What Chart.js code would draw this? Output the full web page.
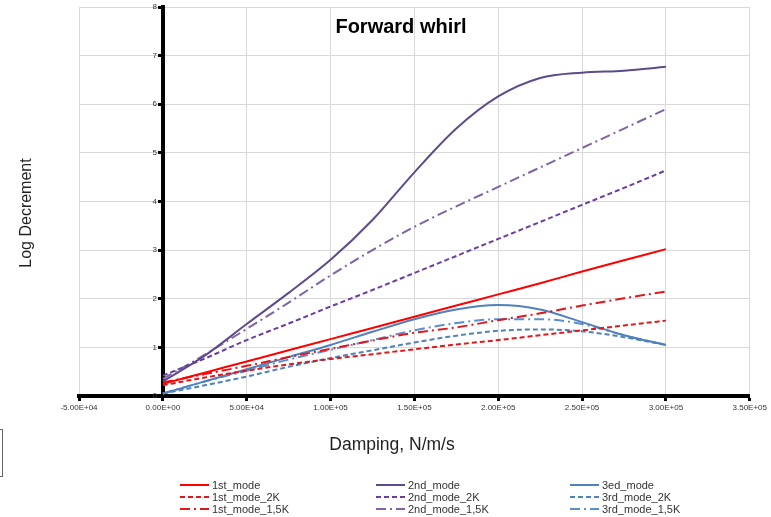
<!DOCTYPE html>
<html lang="en">
<head>
    <meta charset="UTF-8">
    <title>Forward whirl</title>
    <script src="https://cdn.jsdelivr.net/npm/chart.js"></script>
    <style>
        body { margin: 0; background: #fff; }
        .container_chart { position: relative; width: 771px; height: 517px; }
    </style>
</head>
<body>
    <div class="container_chart">
        <canvas id="whirlChart"></canvas>
    </div>

    <script>
        // damping, N/m/s
        const damping = [0, 25000, 50000, 75000, 100000, 125000, 150000, 175000, 200000, 225000, 250000, 275000, 300000];

        // log decrement per mode
        const mode1     = [0.25, 0.48, 0.71, 0.94, 1.17, 1.40, 1.63, 1.86, 2.09, 2.32, 2.56, 2.79, 3.02];
        const mode1_2K  = [0.22, 0.38, 0.52, 0.65, 0.76, 0.86, 0.96, 1.06, 1.15, 1.25, 1.35, 1.45, 1.55];
        const mode1_15K = [0.28, 0.45, 0.62, 0.80, 0.97, 1.14, 1.30, 1.41, 1.56, 1.70, 1.86, 2.01, 2.15];
        const mode2     = [0.30, 0.83, 1.48, 2.12, 2.80, 3.62, 4.60, 5.50, 6.16, 6.54, 6.65, 6.69, 6.77];
        const mode2_2K  = [0.42, 0.77, 1.15, 1.49, 1.84, 2.18, 2.53, 2.88, 3.23, 3.58, 3.93, 4.28, 4.64];
        const mode2_15K = [0.35, 0.85, 1.38, 1.92, 2.48, 3.00, 3.48, 3.90, 4.30, 4.70, 5.10, 5.50, 5.90];
        const mode3     = [0.05, 0.30, 0.55, 0.80, 1.05, 1.32, 1.58, 1.78, 1.87, 1.78, 1.52, 1.25, 1.05];
        const mode3_2K  = [0.05, 0.22, 0.40, 0.60, 0.78, 0.94, 1.10, 1.24, 1.34, 1.37, 1.33, 1.21, 1.05];
        const mode3_15K = [0.05, 0.30, 0.52, 0.75, 0.95, 1.15, 1.35, 1.50, 1.58, 1.58, 1.48, 1.25, 1.05];

        // axis ticks
        const xTicks = [-50000, 0, 50000, 100000, 150000, 200000, 250000, 300000, 350000];
        const yTicks = [0, 1, 2, 3, 4, 5, 6, 7, 8];

        const DASH = [5, 3];
        const DASH_DOT = [10, 4, 2, 4];
        const FONTE = '"Liberation Sans", Arial, sans-serif';

        function pontos(valores) {
            return damping.map((d, i) => ({ x: d, y: valores[i] }));
        }

        function serie(label, valores, cor, dash) {
            return {
                label: label,
                data: pontos(valores),
                borderColor: cor,
                borderWidth: 2,
                borderDash: dash,
                pointRadius: 0,
                cubicInterpolationMode: 'monotone',
                fill: false
            };
        }

        // 0.00E+00 style labels
        function formatoExp(v) {
            const [m, e] = Number(v).toExponential(2).split('e');
            const n = Number(e);
            return m + 'E' + (n < 0 ? '-' : '+') + String(Math.abs(n)).padStart(2, '0');
        }

        // title, axis titles, y tick labels and the 3-column legend
        const textosPlugin = {
            id: 'textos',
            afterDraw(chart) {
                const ctx = chart.ctx;
                const sx = chart.scales.x;
                const sy = chart.scales.y;
                ctx.save();

                ctx.fillStyle = '#000';
                ctx.font = 'bold 20px ' + FONTE;
                ctx.textAlign = 'center';
                ctx.textBaseline = 'middle';
                ctx.fillText('Forward whirl', 401, 27);

                ctx.fillStyle = '#222';
                ctx.font = '17.5px ' + FONTE;
                ctx.fillText('Damping, N/m/s', 392, 445);

                ctx.save();
                ctx.translate(27, 213);
                ctx.rotate(-Math.PI / 2);
                ctx.font = '16px ' + FONTE;
                ctx.fillText('Log Decrement', 0, 0);
                ctx.restore();

                // y labels sit beside the axis at x = 0
                ctx.fillStyle = '#333';
                ctx.font = '8px ' + FONTE;
                ctx.textAlign = 'right';
                const xEixo = sx.getPixelForValue(0) - 6;
                yTicks.forEach(v => {
                    ctx.fillText(String(v), xEixo, sy.getPixelForValue(v));
                });

                // legend: one column per mode
                const colunas = [180, 376, 570];
                const linhas = [485, 497, 509];
                ctx.font = '11px ' + FONTE;
                ctx.textAlign = 'left';
                chart.data.datasets.forEach((ds, i) => {
                    const x0 = colunas[Math.floor(i / 3)];
                    const y = linhas[i % 3];
                    ctx.strokeStyle = ds.borderColor;
                    ctx.lineWidth = 2;
                    ctx.setLineDash(ds.borderDash || []);
                    ctx.beginPath();
                    ctx.moveTo(x0, y);
                    ctx.lineTo(x0 + 29, y);
                    ctx.stroke();
                    ctx.setLineDash([]);
                    ctx.fillStyle = '#333';
                    ctx.fillText(ds.label, x0 + 32, y + 0.5);
                });

                // small leftover frame at the left edge
                ctx.strokeStyle = '#666';
                ctx.lineWidth = 1;
                ctx.strokeRect(-0.5, 429.5, 3, 47);

                ctx.restore();
            }
        };

        const vermelho = '#FF0000';
        const vermelhoEsc = '#E3161B';

        new Chart(document.getElementById('whirlChart'), {
            type: 'line',
            data: {
                datasets: [
                    serie('1st_mode', mode1, vermelho, []),
                    serie('1st_mode_2K', mode1_2K, vermelhoEsc, DASH),
                    serie('1st_mode_1,5K', mode1_15K, vermelhoEsc, DASH_DOT),
                    serie('2nd_mode', mode2, '#5F4B8B', []),
                    serie('2nd_mode_2K', mode2_2K, '#6B3FA0', DASH),
                    serie('2nd_mode_1,5K', mode2_15K, '#8064A2', DASH_DOT),
                    serie('3ed_mode', mode3, '#4F81BD', []),
                    serie('3rd_mode_2K', mode3_2K, '#4F81BD', DASH),
                    serie('3rd_mode_1,5K', mode3_15K, '#5B8ED0', DASH_DOT)
                ]
            },
            options: {
                responsive: true,
                maintainAspectRatio: false,
                animation: false,
                layout: { padding: { left: 79, right: 21, top: 7, bottom: 121 } },
                plugins: {
                    legend: { display: false },
                    title: { display: false },
                    tooltip: { enabled: false }
                },
                scales: {
                    x: {
                        type: 'linear',
                        position: { y: 0 },
                        min: -50000,
                        max: 350000,
                        afterBuildTicks: s => { s.ticks = xTicks.map(v => ({ value: v })); },
                        ticks: {
                            callback: v => formatoExp(v),
                            font: { size: 8, family: FONTE },
                            color: '#333',
                            padding: 4,
                            maxRotation: 0,
                            autoSkip: false
                        },
                        grid: { color: '#D9D9D9', tickColor: '#000', tickLength: 3, tickWidth: 3 },
                        border: { color: '#000', width: 4 }
                    },
                    y: {
                        type: 'linear',
                        position: { x: 0 },
                        min: 0,
                        max: 8,
                        afterBuildTicks: s => { s.ticks = yTicks.map(v => ({ value: v })); },
                        ticks: { display: false },
                        grid: { color: '#D9D9D9', tickColor: '#000', tickLength: 3, tickWidth: 3 },
                        border: { color: '#000', width: 4 }
                    }
                }
            },
            plugins: [textosPlugin]
        });
    </script>
</body>
</html>
